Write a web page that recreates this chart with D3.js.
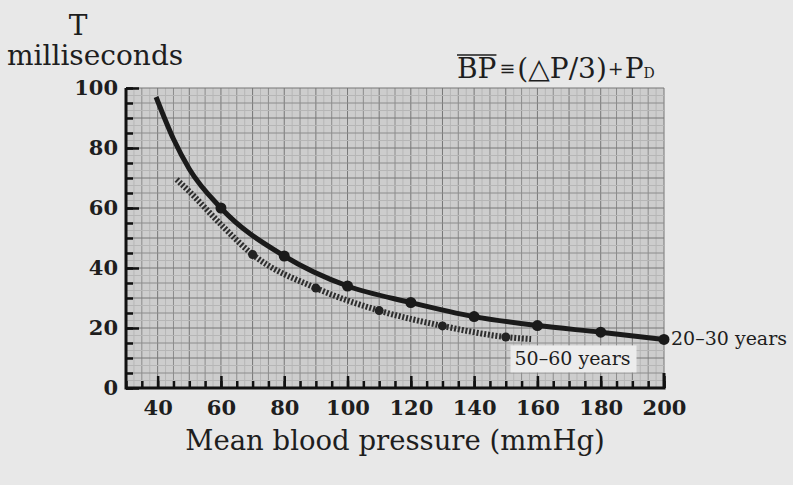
<!DOCTYPE html>
<html>
<head>
<meta charset="utf-8">
<script src="https://cdn.jsdelivr.net/npm/d3@7"></script>
<style>
  body { margin: 0; background: #e8e8e8; }
  svg { display: block; }
  text { font-family: "DejaVu Serif", serif; fill: #1e1e1e; }
</style>
</head>
<body>
<script>
// Chart data
var youngBP = [39.5, 45, 50, 60, 80, 100, 120, 140, 160, 180, 200];
var youngT = [97, 83, 73, 60, 44, 34, 28.5, 23.8, 20.8, 18.6, 16.2];
var youngDotBP = [60, 80, 100, 120, 140, 160, 180, 200];

var olderBP = [46, 50, 60, 70, 90, 110, 130, 150, 158];
var olderT = [69.5, 65.5, 54.5, 44.5, 33.3, 25.8, 20.7, 17.0, 16.3];
var olderDotBP = [70, 90, 110, 130, 150];

var xTicks = [40, 60, 80, 100, 120, 140, 160, 180, 200];
var yTicks = [0, 20, 40, 60, 80, 100];

// SVG area
var svgWidth = 793;
var svgHeight = 485;

var margin = { top: 88, right: 129, bottom: 97, left: 126 };
var chartWidth = svgWidth - margin.left - margin.right;
var chartHeight = svgHeight - margin.top - margin.bottom;

var svg = d3.select("body")
  .append("svg")
  .attr("width", svgWidth)
  .attr("height", svgHeight);

var chartGroup = svg.append("g")
  .attr("transform", `translate(${margin.left}, ${margin.top})`);

var xLinearScale = d3.scaleLinear()
  .domain([30, 200])
  .range([0, chartWidth]);

var yLinearScale = d3.scaleLinear()
  .domain([0, 100])
  .range([chartHeight, 0]);

// graph paper background
chartGroup.append("rect")
  .attr("width", chartWidth)
  .attr("height", chartHeight)
  .attr("fill", "#cdcdcd");

// fine, medium and heavy grid lines
function gridColor(v) {
  if (v % 10 === 0) return "#777";
  if (v % 5 === 0) return "#8c8c8c";
  return "#b6b6b6";
}

chartGroup.append("g").selectAll("line")
  .data(d3.range(30, 200.1, 2.5))
  .join("line")
  .attr("x1", d => xLinearScale(d))
  .attr("x2", d => xLinearScale(d))
  .attr("y1", 0)
  .attr("y2", chartHeight)
  .attr("stroke", d => gridColor(d))
  .attr("stroke-width", 1);

chartGroup.append("g").selectAll("line")
  .data(d3.range(0, 100.1, 2.5))
  .join("line")
  .attr("x1", 0)
  .attr("x2", chartWidth)
  .attr("y1", d => yLinearScale(d))
  .attr("y2", d => yLinearScale(d))
  .attr("stroke", d => gridColor(d))
  .attr("stroke-width", 1);

var older = olderBP.map((bp, i) => ({ bp: bp, t: olderT[i] }));
var young = youngBP.map((bp, i) => ({ bp: bp, t: youngT[i] }));

var drawLine = d3.line()
  .x(d => xLinearScale(d.bp))
  .y(d => yLinearScale(d.t))
  .curve(d3.curveMonotoneX);

// 50-60 years curve (hatched band)
chartGroup.append("path")
  .attr("d", drawLine(older))
  .attr("fill", "none")
  .attr("stroke", "#2e2e2e")
  .attr("stroke-width", 6)
  .attr("stroke-dasharray", "2 1.8");

chartGroup.append("g").selectAll("circle")
  .data(older.filter(d => olderDotBP.includes(d.bp)))
  .join("circle")
  .attr("cx", d => xLinearScale(d.bp))
  .attr("cy", d => yLinearScale(d.t))
  .attr("r", 4.5)
  .attr("fill", "#222");

// 20-30 years curve
chartGroup.append("path")
  .attr("d", drawLine(young))
  .attr("fill", "none")
  .attr("stroke", "#1a1a1a")
  .attr("stroke-width", 5);

chartGroup.append("g").selectAll("circle")
  .data(young.filter(d => youngDotBP.includes(d.bp)))
  .join("circle")
  .attr("cx", d => xLinearScale(d.bp))
  .attr("cy", d => yLinearScale(d.t))
  .attr("r", 5.5)
  .attr("fill", "#1a1a1a");

// label box for the older group
var boxX = xLinearScale(151.5);
var boxY = yLinearScale(14.2);
chartGroup.append("rect")
  .attr("x", boxX)
  .attr("y", boxY)
  .attr("width", 126)
  .attr("height", 27)
  .attr("fill", "#ececec");

chartGroup.append("text")
  .attr("x", boxX + 4)
  .attr("y", boxY + 20)
  .attr("font-size", 19)
  .text("50–60 years");

var lastYoung = young[young.length - 1];
chartGroup.append("text")
  .attr("x", xLinearScale(lastYoung.bp) + 7)
  .attr("y", yLinearScale(lastYoung.t) + 6)
  .attr("font-size", 19)
  .text("20–30 years");

// axes: major ticks with labels, minor ticks without
var leftAxis = d3.axisLeft(yLinearScale)
  .tickValues(yTicks)
  .tickSize(-13)
  .tickPadding(8);

var leftMinor = d3.axisLeft(yLinearScale)
  .tickValues(d3.range(0, 101, 5))
  .tickSize(-7)
  .tickFormat("");

var bottomAxis = d3.axisBottom(xLinearScale)
  .tickValues(xTicks)
  .tickSize(-12)
  .tickPadding(12);

var bottomMinor = d3.axisBottom(xLinearScale)
  .tickValues(d3.range(30, 201, 5))
  .tickSize(-7)
  .tickFormat("");

function styleAxis(g) {
  g.select(".domain").remove();
  g.selectAll(".tick line").attr("stroke", "#111").attr("stroke-width", 2.5);
  g.selectAll("text")
    .attr("font-family", "DejaVu Serif")
    .attr("font-size", 21)
    .attr("font-weight", "bold")
    .attr("fill", "#222");
}

chartGroup.append("g").call(leftMinor).call(styleAxis);
chartGroup.append("g").call(leftAxis).call(styleAxis);

chartGroup.append("g")
  .attr("transform", "translate(0, " + chartHeight + ")")
  .call(bottomMinor).call(styleAxis);
chartGroup.append("g")
  .attr("transform", "translate(0, " + chartHeight + ")")
  .call(bottomAxis).call(styleAxis);

// heavy axis frame
chartGroup.append("path")
  .attr("d", `M0,0V${chartHeight}H${chartWidth}V${chartHeight - 15}`)
  .attr("fill", "none")
  .attr("stroke", "#111")
  .attr("stroke-width", 3);

// titles
svg.append("text")
  .attr("x", 78)
  .attr("y", 35)
  .attr("text-anchor", "middle")
  .attr("font-size", 28)
  .text("T");

svg.append("text")
  .attr("x", 7)
  .attr("y", 65)
  .attr("font-size", 28)
  .text("milliseconds");

svg.append("text")
  .attr("x", margin.left + chartWidth / 2)
  .attr("y", 450)
  .attr("text-anchor", "middle")
  .attr("font-size", 27.5)
  .text("Mean blood pressure (mmHg)");

// formula BP = (dP/3) + P_D, with a bar over BP
var bp = svg.append("text")
  .attr("x", 457)
  .attr("y", 78)
  .attr("font-size", 28)
  .text("BP");
var bpWidth = bp.node().getComputedTextLength();

svg.append("line")
  .attr("x1", 457)
  .attr("x2", 457 + bpWidth)
  .attr("y1", 55)
  .attr("y2", 55)
  .attr("stroke", "#1e1e1e")
  .attr("stroke-width", 1.5);

var formula = svg.append("text")
  .attr("x", 457 + bpWidth + 3)
  .attr("y", 78)
  .attr("font-size", 28);
formula.append("tspan").attr("font-size", 19).attr("dy", -3).text("≡");
formula.append("tspan").attr("dy", 3).attr("dx", 2).text("(△P/3)");
formula.append("tspan").attr("font-size", 19).attr("dy", -3).attr("dx", 1).text("+");
formula.append("tspan").attr("dy", 3).attr("dx", 1).text("P");
formula.append("tspan").attr("font-size", 14).text("D");
</script>
</body>
</html>
